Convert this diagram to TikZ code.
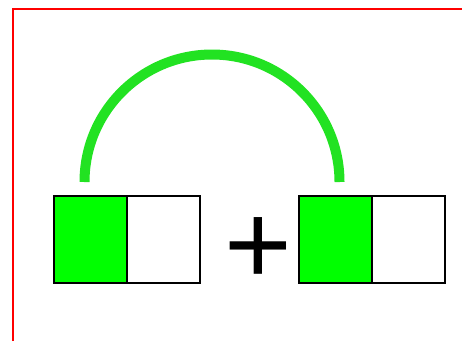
\documentclass[tikz,border=0pt]{standalone}
\usepackage{fontspec}
\usepackage{tikz}
\usetikzlibrary{calc, positioning}

\newfontfamily\plusfont{Liberation Sans}

\definecolor{bargreen}{RGB}{0,255,0}
\definecolor{arcgreen}{RGB}{34,226,34}

\tikzset{
    cell/.style={draw=black, line width=2.5pt, minimum width=73pt, minimum height=87pt,
        inner sep=0pt, outer sep=0pt},
    fullcell/.style={cell, fill=bargreen},
    emptycell/.style={cell, fill=white}
}

\begin{document}
\begin{tikzpicture}[x=1pt, y=-1pt]
    \useasboundingbox (0,0) rectangle (462,341);

    % khung đỏ
    \draw[red, line width=2pt] (13,341) -- (13,9) -- (462,9);

    % phân số thứ nhất
    \node[fullcell, anchor=north west] (a1) at (54,196) {};
    \node[emptycell, right=0pt of a1] (a2) {};

    % dấu cộng
    \node[font=\plusfont\fontsize{116}{116}\selectfont, inner sep=0pt] (plus) at (258,251) {+};

    % phân số thứ hai
    \node[fullcell, anchor=north west] (b1) at (299,196) {};
    \node[emptycell, right=0pt of b1] (b2) {};

    % cung nối hai phần tô màu
    \coordinate (s) at ($(a1.north)+(-6,-14)$);
    \coordinate (e) at ($(b1.north)+(4,-14)$);
    \draw[arcgreen, line width=10pt] let \p1=($(e)-(s)$) in
        (s) arc[start angle=180, end angle=0, radius=0.5*\x1];
\end{tikzpicture}
\end{document}
